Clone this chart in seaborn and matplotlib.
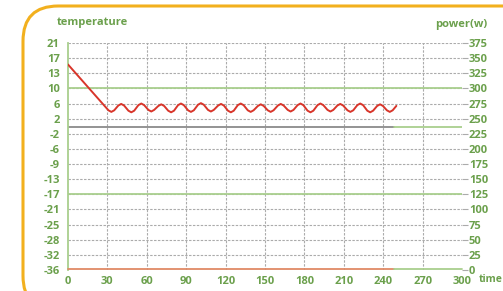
import numpy as np
import pandas as pd
import matplotlib
matplotlib.use('Agg')
import matplotlib.pyplot as plt
import seaborn as sns
from matplotlib.patches import FancyBboxPatch

# ---- data ----
time_pts = [0,
            30.8, 33.0, 35.2, 38.3, 40.5, 42.7, 46.0, 48.2, 50.4, 53.6, 55.8, 58.0,
            61.2, 63.4, 65.6, 68.8, 71.0, 73.2, 76.3, 78.5, 80.7, 83.8, 86.0, 88.2,
            91.4, 93.6, 95.8, 99.0, 101.2, 103.4, 106.6, 108.8, 111.0, 114.3, 116.5, 118.7,
            121.8, 124.0, 126.2, 129.3, 131.5, 133.7, 136.9, 139.1, 141.3, 144.6, 146.8, 149.0,
            152.1, 154.3, 156.5, 159.8, 162.0, 164.2, 167.3, 169.5, 171.7, 174.8, 177.0, 179.2,
            182.4, 184.6, 186.8, 190.0, 192.2, 194.4, 197.6, 199.8, 202.0, 205.1, 207.3, 209.5,
            212.8, 215.0, 217.2, 220.3, 222.5, 224.7, 227.9, 230.1, 232.3, 235.4, 237.6, 239.8,
            242.8, 245.0, 247.2, 250.0]
temp_pts = [15.6,
            4.1, 3.7, 4.1, 5.3, 5.7, 5.3, 4.0, 3.6, 4.0, 5.4, 5.8, 5.4,
            4.2, 3.8, 4.2, 5.2, 5.6, 5.2, 4.0, 3.6, 4.0, 5.4, 5.8, 5.4,
            4.1, 3.7, 4.1, 5.5, 5.9, 5.5, 4.2, 3.8, 4.2, 5.3, 5.7, 5.3,
            4.0, 3.6, 4.0, 5.4, 5.8, 5.4, 4.1, 3.7, 4.1, 5.2, 5.6, 5.2,
            4.1, 3.7, 4.1, 5.3, 5.7, 5.3, 4.2, 3.8, 4.2, 5.4, 5.8, 5.4,
            4.0, 3.6, 4.0, 5.4, 5.8, 5.4, 4.2, 3.8, 4.2, 5.3, 5.7, 5.3,
            4.1, 3.7, 4.1, 5.4, 5.8, 5.4, 4.0, 3.6, 4.0, 5.2, 5.6, 5.2,
            4.1, 3.7, 4.1, 5.2]
temp_labels = ['21', '17', '13', '10', '6', '2', '-2', '-6', '-9', '-13', '-17',
               '-21', '-25', '-28', '-32', '-36']
power_ticks = [0, 25, 50, 75, 100, 125, 150, 175, 200, 225, 250, 275, 300, 325, 350, 375]
time_ticks = [0, 30, 60, 90, 120, 150, 180, 210, 240, 270, 300]
temp_min, temp_max = -36, 21
green_levels = [9.6, -17.0]
baseline_temp = 0.0
run_end = 248

df = pd.DataFrame({'time': time_pts, 'temp': temp_pts})

sns.set_style('white')
plt.rcParams['font.family'] = ['Open Sans', 'DejaVu Sans']

GREEN = '#6ba04c'
GRID = '#ababab'
LGREEN = '#a9cf8e'
WEIGHT = 'bold'
fig = plt.figure(figsize=(5.03, 2.91), dpi=100)
ax = fig.add_axes([68/503, 1-270/291, (462-68)/503, (270-43)/291])

# grid
ytick_pos = np.linspace(temp_max, temp_min, len(temp_labels))
for y in ytick_pos:
    ax.axhline(y, color=GRID, lw=0.8, ls=(0, (2.2, 1.3)), zorder=1)
for x in time_ticks[1:-1]:
    ax.axvline(x, color=GRID, lw=0.8, ls=(0, (2.2, 1.3)), zorder=1)

# reference lines
for lv in green_levels:
    ax.axhline(lv, color=LGREEN, lw=1.3, zorder=2)
ax.plot([0, run_end], [baseline_temp, baseline_temp], color='#8a8a8a', lw=1.3, zorder=2)
ax.plot([run_end, 300], [baseline_temp, baseline_temp], color=LGREEN, lw=1.3, zorder=2)
ax.plot([0, run_end], [temp_min + 0.25, temp_min + 0.25], color='#e08a66', lw=1.3, zorder=3, clip_on=False)
ax.plot([run_end, 300], [temp_min + 0.25, temp_min + 0.25], color=LGREEN, lw=1.3, zorder=3, clip_on=False)

sns.lineplot(data=df, x='time', y='temp', ax=ax, color='#d8352a', lw=1.4,
             solid_joinstyle='round', zorder=4)

ax.set_xlim(0, 300)
ax.set_ylim(temp_min, temp_max)
ax.set_yticks(ytick_pos)
ax.set_yticklabels(temp_labels)
ax.set_xticks(time_ticks)
ax.set_xticklabels([str(t) for t in time_ticks])
ax.set_xlabel('')
ax.set_ylabel('')
ax.tick_params(axis='y', length=0, pad=6, labelsize=8, labelcolor=GREEN)
ax.tick_params(axis='x', length=0, pad=4, labelsize=8, labelcolor=GREEN)
for lab in ax.get_xticklabels() + ax.get_yticklabels():
    lab.set_fontweight(WEIGHT)
for s in ['top', 'right', 'bottom']:
    ax.spines[s].set_visible(False)
ax.spines['left'].set_color(LGREEN)
ax.spines['left'].set_linewidth(1.3)

ax2 = ax.twinx()
ax2.set_ylim(0, 375)
ax2.set_yticks(power_ticks)
ax2.set_yticklabels([str(p) for p in power_ticks])
ax2.tick_params(axis='y', length=4, width=0.8, color=GRID, pad=1,
                labelsize=8, labelcolor=GREEN)
for lab in ax2.get_yticklabels():
    lab.set_fontweight(WEIGHT)
for s in ax2.spines.values():
    s.set_visible(False)
ax2.grid(False)

fig.text(57/503, 1-23/291, 'temperature', color=GREEN, fontsize=8,
         fontweight=WEIGHT, ha='left', va='center')
fig.text(487/503, 1-24/291, 'power(w)', color=GREEN, fontsize=8,
         fontweight=WEIGHT, ha='right', va='center')
fig.text(479/503, 1-279/291, 'time', color=GREEN, fontsize=7.5,
         fontweight=WEIGHT, ha='left', va='center')

box = FancyBboxPatch((23/503, -20/291), 520/503, (291-6+20)/291,
                     boxstyle='round,pad=0,rounding_size=0.07',
                     transform=fig.transFigure, fill=False,
                     edgecolor='#f2b01e', lw=2.2, clip_on=False,
                     mutation_aspect=503/291)
fig.patches.append(box)

fig.savefig('out.png', dpi=100)
